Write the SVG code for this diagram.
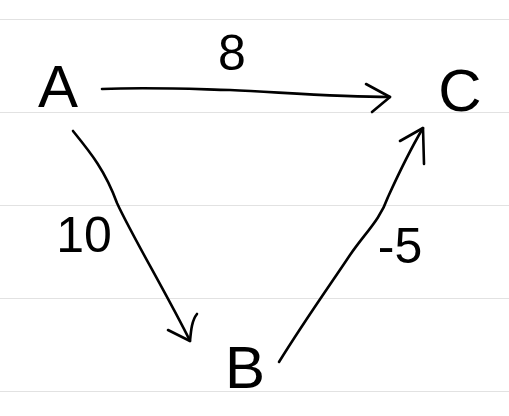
<svg xmlns="http://www.w3.org/2000/svg" width="509" height="416" viewBox="0 0 509 416">
<style>
.rule{stroke:#e2e2e2;stroke-width:1.2;fill:none}
.edge{stroke:#000;stroke-width:2.6;fill:none;stroke-linecap:round;stroke-linejoin:round}
.node{font-family:"Liberation Sans",Arial,sans-serif;font-size:60px;fill:#000;text-anchor:middle}
.lbl{font-family:"Liberation Sans",Arial,sans-serif;font-size:50px;fill:#000;text-anchor:middle}
</style>
<rect width="509" height="416" fill="#fff"/>
<g id="paper">
<line class="rule" x1="0" y1="19.5" x2="509" y2="19.5"/>
<line class="rule" x1="0" y1="112.5" x2="509" y2="112.5"/>
<line class="rule" x1="0" y1="205.5" x2="509" y2="205.5"/>
<line class="rule" x1="0" y1="298.5" x2="509" y2="298.5"/>
<line class="rule" x1="0" y1="391.5" x2="509" y2="391.5"/>
</g>
<g id="connectors">
<g id="edge-A-C">
<path class="edge" d="M102,89 C150,87 190,89 230,90 C290,93 340,97 390,97"/>
<path class="edge" d="M366,84 L390,97 L372,112"/>
<text class="lbl" x="232" y="70">8</text>
</g>
<g id="edge-A-B">
<path class="edge" d="M73,131 C90,152 105,170 117,203 C130,232 170,300 190,341"/>
<path class="edge" d="M168,330 L190,341 C191,330 192,320 197,314"/>
<text class="lbl" x="84" y="252">10</text>
</g>
<g id="edge-B-C">
<path class="edge" d="M279,362 C305,320 330,285 350,255 C365,233 380,220 388,197 C398,175 410,150 423,128"/>
<path class="edge" d="M400,141 L423,128 L424,164"/>
<text class="lbl" x="400" y="263">-5</text>
</g>
</g>
<g id="node-A"><text class="node" x="58" y="107">A</text></g>
<g id="node-C"><text class="node" x="460" y="111">C</text></g>
<g id="node-B"><text class="node" x="245" y="388">B</text></g>
</svg>
